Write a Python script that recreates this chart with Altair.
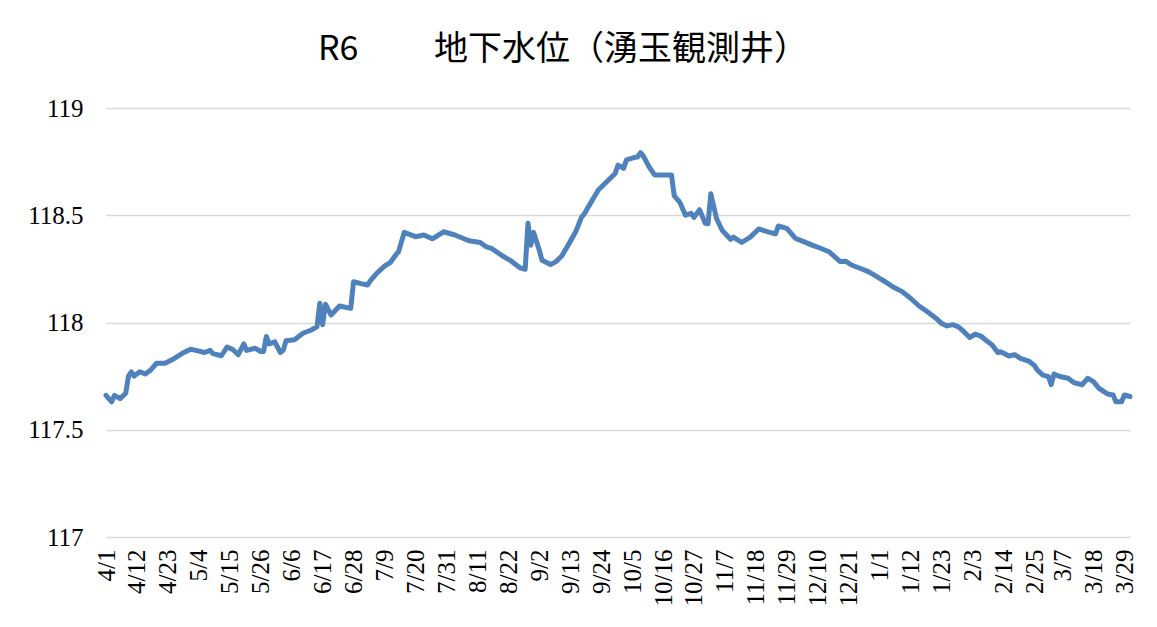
import altair as alt
import pandas as pd

# Observation dates (M/D, fiscal year 2024: April 2024 - March 2025)
dates = ["4/1", "4/3", "4/4", "4/6", "4/8", "4/9", "4/10", "4/11", "4/13", "4/15",
         "4/17", "4/19", "4/22", "4/25", "4/28", "5/1", "5/3", "5/6", "5/8", "5/9",
         "5/12", "5/14", "5/16", "5/18", "5/20", "5/21", "5/24", "5/26", "5/27", "5/28",
         "5/29", "5/31", "6/2", "6/3", "6/4", "6/7", "6/10", "6/13", "6/15", "6/16",
         "6/17", "6/18", "6/20", "6/23", "6/27", "6/28", "7/1", "7/3", "7/4", "7/6",
         "7/9", "7/11", "7/13", "7/14", "7/16", "7/20", "7/23", "7/26", "7/30", "8/3",
         "8/8", "8/12", "8/14", "8/16", "8/20", "8/23", "8/26", "8/28", "8/29", "8/30",
         "8/31", "9/2", "9/3", "9/6", "9/8", "9/10", "9/13", "9/15", "9/17", "9/18",
         "9/21", "9/23", "9/26", "9/29", "9/30", "10/2", "10/3", "10/6", "10/7", "10/8",
         "10/9", "10/11", "10/13", "10/19", "10/20", "10/22", "10/24", "10/26", "10/27", "10/29",
         "10/31", "11/1", "11/2", "11/4", "11/6", "11/9", "11/10", "11/13", "11/16", "11/19",
         "11/22", "11/25", "11/26", "11/29", "12/2", "12/5", "12/8", "12/11", "12/14", "12/16",
         "12/18", "12/20", "12/22", "12/25", "12/28", "12/30", "1/1", "1/3", "1/6", "1/9",
         "1/12", "1/15", "1/18", "1/21", "1/23", "1/25", "1/27", "1/29", "1/31", "2/2",
         "2/4", "2/6", "2/8", "2/10", "2/12", "2/13", "2/16", "2/18", "2/20", "2/23",
         "2/25", "2/26", "2/28", "3/2", "3/3", "3/4", "3/6", "3/9", "3/11", "3/14",
         "3/16", "3/18", "3/20", "3/23", "3/25", "3/26", "3/28", "3/29", "3/31"]

# Groundwater level (m)
levels = [117.66, 117.63, 117.66, 117.645, 117.67, 117.75, 117.77, 117.75, 117.77, 117.76,
          117.78, 117.81, 117.81, 117.83, 117.855, 117.875, 117.87, 117.86, 117.87, 117.855,
          117.845, 117.885, 117.875, 117.85, 117.90, 117.87, 117.88, 117.865, 117.865, 117.935,
          117.90, 117.91, 117.86, 117.87, 117.915, 117.92, 117.95, 117.965, 117.98, 118.09,
          117.99, 118.085, 118.035, 118.077, 118.066, 118.19, 118.18, 118.175, 118.195, 118.226,
          118.263, 118.279, 118.315, 118.33, 118.42, 118.40, 118.408, 118.39, 118.423, 118.408,
          118.381, 118.373, 118.354, 118.346, 118.31, 118.287, 118.256, 118.248, 118.463, 118.36,
          118.42, 118.338, 118.29, 118.27, 118.284, 118.31, 118.377, 118.424, 118.49, 118.506,
          118.574, 118.618, 118.656, 118.695, 118.734, 118.719, 118.758, 118.77, 118.772, 118.792,
          118.776, 118.727, 118.688, 118.688, 118.59, 118.56, 118.50, 118.509, 118.49, 118.526,
          118.462, 118.46, 118.60, 118.486, 118.43, 118.388, 118.398, 118.373, 118.398, 118.436,
          118.424, 118.413, 118.45, 118.439, 118.393, 118.377, 118.361, 118.346, 118.33, 118.307,
          118.284, 118.285, 118.268, 118.253, 118.237, 118.222, 118.206, 118.19, 118.164, 118.144,
          118.113, 118.077, 118.05, 118.02, 117.996, 117.984, 117.99, 117.98, 117.957, 117.93,
          117.946, 117.937, 117.915, 117.895, 117.86, 117.864, 117.844, 117.85, 117.833, 117.82,
          117.80, 117.779, 117.755, 117.748, 117.71, 117.76, 117.748, 117.74, 117.72, 117.71,
          117.74, 117.724, 117.693, 117.667, 117.662, 117.63, 117.63, 117.662, 117.655]

# Category tick labels on the x axis
tick_labels = ["4/1", "4/12", "4/23", "5/4", "5/15", "5/26", "6/6", "6/17", "6/28", "7/9",
               "7/20", "7/31", "8/11", "8/22", "9/2", "9/13", "9/24", "10/5", "10/16", "10/27",
               "11/7", "11/18", "11/29", "12/10", "12/21", "1/1", "1/12", "1/23", "2/3", "2/14",
               "2/25", "3/7", "3/18", "3/29"]

y_ticks = [117, 117.5, 118, 118.5, 119]


def to_iso(md):
    m, d = (int(v) for v in md.split("/"))
    y = 2024 if m >= 4 else 2025
    return f"{y:04d}-{m:02d}-{d:02d}"


def to_ms(md):
    return int(pd.Timestamp(to_iso(md), tz="UTC").value // 10**6)


df = pd.DataFrame({"date": [to_iso(s) for s in dates], "level": levels})

x_values = [to_ms(s) for s in tick_labels]
x_domain = [to_ms("4/1"), to_ms("3/31")]

serif = "Liberation Serif"

chart = (
    alt.Chart(df)
    .mark_line(color="#4F81BD", strokeWidth=5, strokeJoin="round", strokeCap="round")
    .encode(
        x=alt.X(
            "date:T",
            scale=alt.Scale(type="utc", domain=x_domain, nice=False),
            axis=alt.Axis(
                title=None,
                values=x_values,
                labelExpr="utcFormat(datum.value, '%-m/%-d')",
                labelAngle=270,
                labelFont=serif,
                labelFontSize=25,
                labelColor="black",
                labelPadding=12,
                labelOverlap=False,
                labelFlush=False,
                ticks=False,
                domain=False,
                grid=False,
            ),
        ),
        y=alt.Y(
            "level:Q",
            scale=alt.Scale(domain=[117, 119], nice=False, zero=False),
            axis=alt.Axis(
                title=None,
                values=y_ticks,
                format="~g",
                labelFont=serif,
                labelFontSize=25,
                labelColor="black",
                labelPadding=23,
                ticks=False,
                domain=False,
                grid=True,
                gridColor="#d9d9d9",
                gridWidth=1.4,
            ),
        ),
    )
    .properties(
        width=1024,
        height=429,
        title=alt.TitleParams(
            text="R6　　 地下水位（湧玉観測井）",
            font="Noto Sans CJK JP",
            fontSize=34,
            fontWeight="normal",
            color="black",
            anchor="middle",
            frame="group",
            baseline="alphabetic",
            offset=2,
            dx=-55,
        ),
        padding={"left": 19, "top": 25, "right": 5, "bottom": 5},
        background="white",
    )
    .configure_view(stroke=None)
)

chart.save("out.html", embed_options={"renderer": "svg", "actions": False})
